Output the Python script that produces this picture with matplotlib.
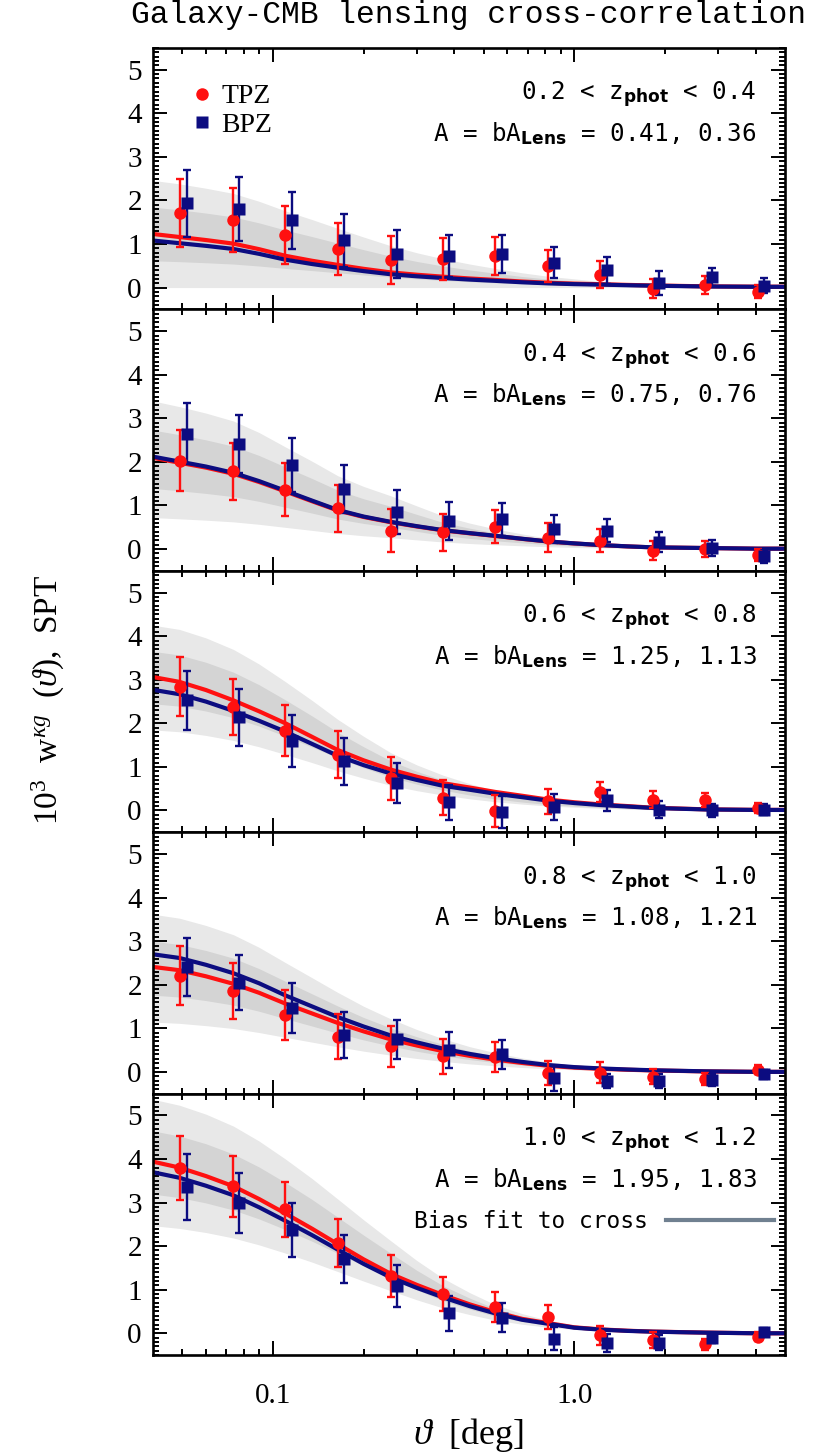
import numpy as np
import matplotlib
matplotlib.use('Agg')
import matplotlib.pyplot as plt
from matplotlib.lines import Line2D
from matplotlib.ticker import FixedLocator, MultipleLocator, NullFormatter

plt.rcParams['font.family'] = 'Liberation Serif'
plt.rcParams['mathtext.fontset'] = 'custom'
plt.rcParams['mathtext.rm'] = 'Liberation Serif'
plt.rcParams['mathtext.it'] = 'Liberation Serif:italic'
plt.rcParams['mathtext.bf'] = 'DejaVu Sans:bold'

# angular bins [deg]
theta_tpz = [0.049, 0.074, 0.110, 0.164, 0.246, 0.367, 0.546, 0.817, 1.22, 1.82, 2.72, 4.06]
theta_bpz = [0.052, 0.077, 0.116, 0.172, 0.258, 0.385, 0.574, 0.858, 1.28, 1.91, 2.86, 4.26]
theta_model = [0.04, 0.049, 0.06, 0.074, 0.09, 0.11, 0.135, 0.164, 0.2, 0.246, 0.3, 0.367,
               0.45, 0.546, 0.67, 0.817, 1.0, 1.22, 1.5, 1.82, 2.72, 4.06, 5.0]

zbins_lo = ['0.2', '0.4', '0.6', '0.8', '1.0']
zbins_hi = ['0.4', '0.6', '0.8', '1.0', '1.2']
amp_tpz = [0.41, 0.75, 1.25, 1.08, 1.95]
amp_bpz = [0.36, 0.76, 1.13, 1.21, 1.83]

# 10^3 w(theta), TPZ
w_tpz = [
    [1.71, 1.55, 1.20, 0.88, 0.63, 0.65, 0.73, 0.49, 0.30, -0.03, 0.06, -0.09],
    [2.03, 1.78, 1.36, 0.93, 0.42, 0.38, 0.51, 0.26, 0.19, -0.04, 0.00, -0.13],
    [2.84, 2.38, 1.83, 1.28, 0.74, 0.29, -0.02, 0.21, 0.43, 0.25, 0.24, 0.06],
    [2.21, 1.86, 1.31, 0.81, 0.59, 0.36, 0.34, -0.02, -0.02, -0.11, -0.16, 0.05],
    [3.79, 3.37, 2.85, 2.07, 1.32, 0.90, 0.61, 0.38, -0.05, -0.16, -0.25, -0.08],
]
err_tpz = [
    [0.78, 0.74, 0.67, 0.60, 0.55, 0.48, 0.43, 0.37, 0.30, 0.22, 0.21, 0.16],
    [0.71, 0.66, 0.61, 0.55, 0.50, 0.43, 0.38, 0.33, 0.27, 0.22, 0.18, 0.14],
    [0.68, 0.64, 0.59, 0.54, 0.49, 0.40, 0.37, 0.29, 0.23, 0.19, 0.16, 0.12],
    [0.67, 0.64, 0.58, 0.51, 0.47, 0.40, 0.35, 0.28, 0.24, 0.18, 0.14, 0.10],
    [0.74, 0.69, 0.63, 0.55, 0.48, 0.40, 0.34, 0.28, 0.22, 0.18, 0.13, 0.10],
]
# 10^3 w(theta), BPZ
w_bpz = [
    [1.93, 1.80, 1.54, 1.09, 0.78, 0.73, 0.77, 0.57, 0.40, 0.10, 0.24, 0.04],
    [2.65, 2.41, 1.92, 1.37, 0.85, 0.64, 0.68, 0.46, 0.42, 0.17, 0.02, -0.17],
    [2.53, 2.14, 1.60, 1.13, 0.63, 0.19, -0.04, 0.08, 0.23, 0.02, 0.00, 0.02],
    [2.41, 2.05, 1.46, 0.85, 0.75, 0.51, 0.40, -0.15, -0.21, -0.21, -0.19, -0.06],
    [3.36, 2.99, 2.36, 1.71, 1.09, 0.46, 0.36, -0.12, -0.22, -0.22, -0.11, 0.04],
]
err_bpz = [
    [0.78, 0.73, 0.66, 0.61, 0.55, 0.48, 0.43, 0.36, 0.31, 0.27, 0.20, 0.17],
    [0.71, 0.66, 0.62, 0.55, 0.50, 0.44, 0.38, 0.33, 0.27, 0.23, 0.19, 0.14],
    [0.68, 0.65, 0.60, 0.54, 0.47, 0.40, 0.36, 0.30, 0.25, 0.19, 0.14, 0.12],
    [0.67, 0.64, 0.57, 0.53, 0.45, 0.41, 0.34, 0.28, 0.16, 0.17, 0.13, 0.10],
    [0.75, 0.69, 0.62, 0.55, 0.48, 0.40, 0.33, 0.26, 0.20, 0.17, 0.12, 0.09],
]

# model shape per z bin (multiplied by A)
shape = [
    [3.00, 2.83, 2.66, 2.46, 2.15, 1.78, 1.50, 1.27, 1.05, 0.85, 0.72, 0.61,
     0.51, 0.43, 0.34, 0.27, 0.22, 0.19, 0.15, 0.12, 0.07, 0.05, 0.05],
    [2.79, 2.64, 2.49, 2.30, 2.05, 1.76, 1.46, 1.18, 0.98, 0.82, 0.69, 0.57,
     0.48, 0.40, 0.31, 0.23, 0.17, 0.12, 0.08, 0.05, 0.03, 0.01, 0.01],
    [2.45, 2.36, 2.21, 2.02, 1.82, 1.60, 1.35, 1.11, 0.92, 0.75, 0.62, 0.50,
     0.42, 0.34, 0.27, 0.20, 0.15, 0.11, 0.08, 0.05, 0.02, 0.01, 0.01],
    [2.23, 2.16, 2.03, 1.87, 1.68, 1.45, 1.24, 1.04, 0.86, 0.69, 0.56, 0.44,
     0.34, 0.26, 0.19, 0.13, 0.09, 0.065, 0.045, 0.03, 0.01, 0.0, 0.0],
    [2.02, 1.95, 1.85, 1.73, 1.58, 1.41, 1.23, 1.05, 0.87, 0.70, 0.57, 0.45,
     0.34, 0.25, 0.17, 0.12, 0.07, 0.046, 0.03, 0.02, 0.008, 0.0, 0.0],
]
# bias fit to cross: centre and fractional 1 sigma width
band_mid = [
    [1.23, 1.19, 1.14, 1.08, 0.99, 0.88, 0.78, 0.68, 0.58, 0.48, 0.40, 0.33,
     0.27, 0.22, 0.17, 0.13, 0.10, 0.07, 0.05, 0.04, 0.02, 0.01, 0.0],
    [2.06, 1.98, 1.89, 1.78, 1.62, 1.42, 1.22, 1.02, 0.87, 0.74, 0.60, 0.46,
     0.36, 0.28, 0.21, 0.15, 0.10, 0.07, 0.05, 0.03, 0.01, 0.0, 0.0],
    [3.05, 2.98, 2.84, 2.65, 2.41, 2.12, 1.81, 1.50, 1.22, 0.95, 0.75, 0.58,
     0.44, 0.33, 0.24, 0.17, 0.12, 0.08, 0.05, 0.03, 0.01, 0.0, 0.0],
    [2.38, 2.32, 2.21, 2.07, 1.88, 1.65, 1.42, 1.20, 0.99, 0.80, 0.64, 0.50,
     0.38, 0.29, 0.21, 0.15, 0.10, 0.07, 0.05, 0.03, 0.01, 0.0, 0.0],
    [3.92, 3.82, 3.67, 3.47, 3.22, 2.92, 2.59, 2.25, 1.90, 1.55, 1.22, 0.92,
     0.68, 0.48, 0.33, 0.22, 0.14, 0.09, 0.05, 0.03, 0.01, 0.0, 0.0],
]
band_frac = [0.5, 0.325, 0.197, 0.26, 0.185]

red = '#ff1010'
navy = '#0c0c80'
mono = 'DejaVu Sans Mono'

fig, axes = plt.subplots(5, 1, figsize=(8.3, 14.53), dpi=100, sharex=True)
fig.subplots_adjust(left=0.1843, right=0.9458, top=0.967, bottom=0.0674, hspace=0)

for i, ax in enumerate(axes):
    mid = np.array(band_mid[i])
    f = band_frac[i]
    ax.fill_between(theta_model, mid * (1 - 2 * f), mid * (1 + 2 * f), color='#e8e8e8', lw=0, zorder=1)
    ax.fill_between(theta_model, mid * (1 - f), mid * (1 + f), color='#d4d4d4', lw=0, zorder=1)

    s = np.array(shape[i])
    ax.plot(theta_model, amp_tpz[i] * s, color=red, lw=3, zorder=2)
    ax.plot(theta_model, amp_bpz[i] * s, color=navy, lw=3, zorder=2)

    ax.errorbar(theta_tpz, w_tpz[i], yerr=err_tpz[i], fmt='o', color=red, ms=9, mec='none',
                elinewidth=1.7, capsize=3, capthick=1.7, zorder=3)
    ax.errorbar(theta_bpz, w_bpz[i], yerr=err_bpz[i], fmt='s', color=navy, ms=8.5, mec='none',
                elinewidth=1.7, capsize=3, capthick=1.7, zorder=3)

    ax.text(0.955, 0.822, zbins_lo[i] + r' < $\mathregular{z}_{\mathbf{phot}}$ < ' + zbins_hi[i],
            transform=ax.transAxes, ha='right', va='center', fontsize=17.5, family=mono)
    ax.text(0.955, 0.672, r'A = b$\mathregular{A}_{\mathbf{Lens}}$ = %.2f, %.2f' % (amp_tpz[i], amp_bpz[i]),
            transform=ax.transAxes, ha='right', va='center', fontsize=17.5, family=mono)

    ax.set_xscale('log')
    ax.set_xlim(0.04, 5)
    ax.set_ylim(-0.5, 5.5)
    ax.xaxis.set_major_locator(FixedLocator([0.1, 1.0]))
    ax.xaxis.set_minor_locator(FixedLocator([0.05, 0.06, 0.07, 0.08, 0.09, 0.2, 0.3, 0.4, 0.5,
                                             0.6, 0.7, 0.8, 0.9, 2, 3, 4]))
    ax.xaxis.set_minor_formatter(NullFormatter())
    ax.set_xticklabels(['0.1', '1.0'])
    ax.yaxis.set_major_locator(FixedLocator([0, 1, 2, 3, 4, 5]))
    ax.yaxis.set_minor_locator(MultipleLocator(0.1))
    ax.tick_params(which='both', direction='in', top=True, right=True, width=1.4, labelsize=21)
    ax.tick_params(which='major', length=10)
    ax.tick_params(which='minor', length=4.5)
    ax.tick_params(axis='y', pad=8)
    ax.tick_params(axis='x', pad=20)
    for sp in ax.spines.values():
        sp.set_linewidth(1.9)

axes[0].legend(handles=[Line2D([], [], marker='o', color=red, ls='none', ms=9, mec='none', label='TPZ'),
                        Line2D([], [], marker='s', color=navy, ls='none', ms=8.5, mec='none', label='BPZ')],
               loc='upper left', bbox_to_anchor=(0.055, 0.862), frameon=False, borderpad=0,
               borderaxespad=0, handlelength=1.0, handletextpad=0.2, labelspacing=0.1,
               prop={'family': 'Liberation Serif', 'size': 20})

axes[4].legend(handles=[Line2D([], [], color='#708090', lw=3, label='Bias fit to cross')],
               loc='center right', bbox_to_anchor=(0.982, 0.51), frameon=False, borderpad=0,
               borderaxespad=0, handlelength=4.7, handletextpad=0.8, markerfirst=False,
               prop={'family': mono, 'size': 16.5})

fig.text(0.565, 0.9895, 'Galaxy-CMB lensing cross-correlation', ha='center', va='center',
         fontsize=22.5, family='Liberation Mono')
fig.text(0.565, 0.0125, r'$\vartheta$  [deg]', ha='center', va='center', fontsize=26)
fig.text(0.058, 0.518, r'10$^3$  w$^{\kappa g}$  ($\vartheta$),  SPT', ha='center', va='center',
         rotation=90, fontsize=24)

fig.savefig('out.png', dpi=100)
